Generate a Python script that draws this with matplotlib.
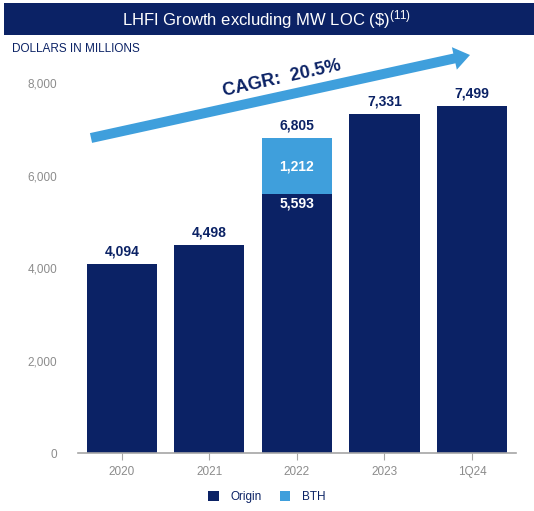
import numpy as np
import matplotlib
matplotlib.use("Agg")
import matplotlib.pyplot as plt
from matplotlib.patches import Rectangle, FancyArrow

plt.rcParams['font.family'] = ['Liberation Sans', 'DejaVu Sans']
plt.rcParams['mathtext.default'] = 'regular'

periods = ['2020', '2021', '2022', '2023', '1Q24']
origin = [4094, 4498, 5593, 7331, 7499]
bth = [0, 0, 1212, 0, 0]
totals = [4094, 4498, 6805, 7331, 7499]
yticks = [0, 2000, 4000, 6000, 8000]
cagr_text = 'CAGR:  20.5%'

NAVY = '#0b2265'
LIGHT = '#3f9fdc'
GREY = '#8c8c8c'

fig = plt.figure(figsize=(5.34, 5.11), dpi=100)

# header banner
fig.patches.append(Rectangle((0.008, 0.932), 0.992, 0.063, transform=fig.transFigure,
                             facecolor=NAVY, edgecolor='none'))
fig.text(0.5, 0.962, r'LHFI Growth excluding MW LOC (\$)$^{(11)}$', color='white',
         fontsize=12, ha='center', va='center')
fig.text(0.022, 0.905, 'DOLLARS IN MILLIONS', color=NAVY, fontsize=8.5, ha='left', va='center')

ax = fig.add_axes([0.146, 0.1135, 0.820, 0.724])
x = np.arange(len(periods))
ax.bar(x, origin, width=0.8, color=NAVY, label='Origin')
ax.bar(x, bth, width=0.8, bottom=origin, color=LIGHT, label='BTH')

ax.set_xlim(-0.5, 4.5)
ax.set_ylim(0, 8000)
ax.set_yticks(yticks)
ax.set_yticklabels([f'{v:,}' for v in yticks], color=GREY, fontsize=8.5)
ax.set_xticks(x)
ax.set_xticklabels(periods, color=GREY, fontsize=8.5)
for s in ['top', 'right', 'left']:
    ax.spines[s].set_visible(False)
ax.spines['bottom'].set_color('#a6a6a6')
ax.spines['bottom'].set_linewidth(1.2)
ax.tick_params(axis='y', length=0, pad=15)
ax.tick_params(axis='x', length=5, color='#a6a6a6', pad=4)

for i, t in enumerate(totals):
    ax.text(i, t + 120, f'{t:,}', color=NAVY, fontsize=10, fontweight='bold',
            ha='center', va='bottom')
# values inside the stacked 2022 bar
ax.text(2, origin[2] + bth[2] / 2, f'{bth[2]:,}', color='white', fontsize=10,
        fontweight='bold', ha='center', va='center')
ax.text(2, origin[2] - 40, f'{origin[2]:,}', color='white', fontsize=10,
        fontweight='bold', ha='center', va='top')

# growth arrow, drawn in inches so the head keeps its shape
fig.patches.append(FancyArrow(0.91, 3.73, 3.79, 0.83, width=0.10, head_width=0.23,
                              head_length=0.16, length_includes_head=True,
                              transform=fig.dpi_scale_trans, color=LIGHT, lw=0))
fig.text(0.528, 0.847, cagr_text, color=NAVY, fontsize=13, fontweight='bold',
         rotation=12.5, ha='center', va='center', rotation_mode='anchor')

leg = fig.legend(loc='center', bbox_to_anchor=(0.5, 0.028), ncol=2, frameon=False,
                 handlelength=0.9, handleheight=0.9, fontsize=8.5, columnspacing=1.5,
                 handletextpad=1.0)
for txt in leg.get_texts():
    txt.set_color(NAVY)

fig.savefig('out.png', dpi=100, facecolor='white')
